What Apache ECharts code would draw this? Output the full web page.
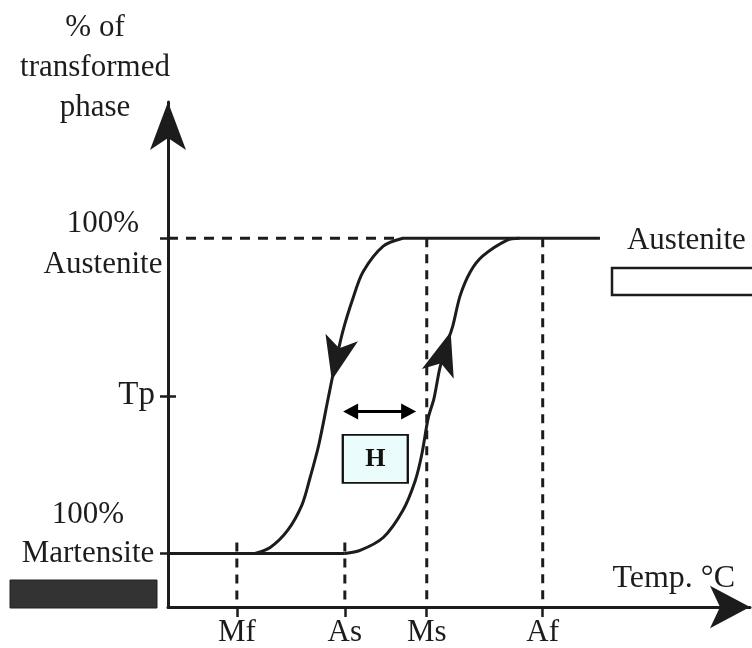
<!DOCTYPE html>
<html><head><meta charset="utf-8">
<script src="https://cdn.jsdelivr.net/npm/echarts@6/dist/echarts.min.js"></script>
<style>html,body{margin:0;padding:0;background:#fff}#c{width:752px;height:648px}</style>
</head><body><div id="c"></div>
<script>
// ---- data ----
const yTitle = '% of\ntransformed\nphase';
const xTitle = 'Temp. \u00B0C';
const xTickNames = ['Mf', 'As', 'Ms', 'Af'];
const xTickValues = [9.5, 24.4, 35.7, 51.7];
const yTickValues = [0, 50, 100];
const yTickNames = [['100%', 'Martensite'], ['Tp'], ['100%', 'Austenite']];
const austeniteLabel = 'Austenite';
const hysteresisLabel = 'H';
// cooling (austenite -> martensite), [temp, % austenite]
const coolingCurve = [[32.4,100],[29.7,97.5],[26.9,89.3],[25.5,80.8],[24.1,70.3],[22.8,57.1],[22.1,49.2],[20.8,34.4],[19.6,24.0],[18.5,15.5],[16.5,7.3],[14.1,1.9],[12.0,0]];
// heating (martensite -> austenite)
const heatingCurve = [[24.4,0],[26.5,0.95],[29.7,5.05],[32.4,13.6],[34.1,23.0],[35.0,31.2],[35.9,42.9],[36.7,49.2],[37.5,58.7],[38.5,66.6],[39.3,72.2],[40.3,81.7],[41.7,89.3],[43.4,94.3],[46.8,99.4],[48.5,100]];
const austeniteDashed = [[0,100],[32.4,100]];
const austeniteSolid = [[32.4,100],[59.6,100]];
const martensiteSolid = [[0,0],[24.4,0]];
const guideTops = [3.5, 3.5, 100, 100];
// arrow tips on the curves: [temp, %, direction]
const curveArrows = [[22.6,54.9,167],[39.0,70.3,-17]];
const hysteresisArrow = [[25.2,45],[33.2,45]];
const hBox = [28.6, 30];

// ---- style ----
const INK = '#1c1c1c';
const FONT = 'Liberation Serif';
const FS = 31;

const chart = echarts.init(document.getElementById('c'), null, {renderer: 'canvas'});

const guideSeries = xTickValues.map((x, i) => ({
  type: 'line', data: [[x, guideTops[i]], [x, -17]], symbol: 'none', silent: true,
  lineStyle: {color: INK, width: 3, type: [9, 7], cap: 'butt'}, z: 2
}));

const option = {
  backgroundColor: '#ffffff',
  animation: false,
  grid: {left: 168, right: 2, top: 102, bottom: 38, containLabel: false},
  xAxis: {
    type: 'value', min: 0, max: 80.3,
    axisLine: {show: true, onZero: false, lineStyle: {color: INK, width: 3},
      symbol: ['none', 'arrow'], symbolSize: [32, 40], symbolOffset: [0, 0]},
    axisTick: {show: true, customValues: xTickValues, length: 10, lineStyle: {color: INK, width: 2.5}},
    axisLabel: {customValues: xTickValues, formatter: v => xTickNames[xTickValues.indexOf(v)],
      margin: 10, fontSize: FS, fontFamily: FONT, color: INK},
    splitLine: {show: false},
    name: xTitle, nameLocation: 'end', nameGap: -15, nameMoveOverlap: false,
    nameTextStyle: {align: 'right', verticalAlign: 'bottom', padding: [0, 0, 12, 0], fontSize: 32, fontFamily: FONT, color: INK}
  },
  yAxis: [{
    type: 'value', min: -17, max: 143.2,
    axisLine: {show: true, onZero: false, lineStyle: {color: INK, width: 3},
      symbol: ['none', 'arrow'], symbolSize: [27, 48], symbolOffset: [0, 0]},
    axisTick: {show: true, customValues: yTickValues, length: 8, lineStyle: {color: INK, width: 2.5}},
    axisLabel: {
      customValues: yTickValues, margin: 5,
      formatter: v => {
        const n = yTickNames[yTickValues.indexOf(v)];
        if (n.length === 1) return '{t|' + n[0] + '}';
        if (v === 0) return '{m|' + n[0] + '}\n{m|' + n[1] + '}\n{m| }';
        return '{s| }\n{a|' + n[0] + '}\n{a|' + n[1] + '}';
      },
      rich: {
        a: {width: 120, align: 'center', fontSize: FS, lineHeight: 41, fontFamily: FONT, color: INK},
        s: {fontSize: 10, lineHeight: 12},
        m: {width: 134, align: 'center', fontSize: FS, lineHeight: 39, fontFamily: FONT, color: INK, padding: [0, 8, 0, 0]},
        t: {fontSize: 33, fontFamily: FONT, color: INK, padding: [0, 8, 0, 0]}
      }
    },
    splitLine: {show: false},
    name: yTitle, nameLocation: 'end', nameGap: 94, nameMoveOverlap: false,
    nameTextStyle: {align: 'center', verticalAlign: 'top', lineHeight: 40, padding: [0, 146, 0, 0],
      fontSize: FS, fontFamily: FONT, color: INK}
  }, {
    type: 'value', min: -17, max: 143.2, position: 'left', offset: 0,
    axisLine: {show: false, onZero: false},
    axisTick: {show: true, inside: true, customValues: [50], length: 8, lineStyle: {color: INK, width: 2.5}},
    axisLabel: {show: false}, splitLine: {show: false}
  }],
  graphic: [
    {type: 'rect', shape: {x: 612, y: 268, width: 160, height: 27}, style: {fill: '#fff', stroke: INK, lineWidth: 2.5}},
    {type: 'rect', shape: {x: 10, y: 580, width: 147, height: 28}, style: {fill: '#333', stroke: '#222', lineWidth: 1}}
  ],
  series: [
    {type: 'line', data: austeniteDashed, symbol: 'none', lineStyle: {color: INK, width: 3, type: [10, 8], cap: 'butt'}, z: 2},
    {type: 'line', data: austeniteSolid, symbol: 'none', lineStyle: {color: INK, width: 3}, z: 3,
      endLabel: {show: true, formatter: austeniteLabel, distance: 27, offset: [0, 3], fontSize: FS, fontFamily: FONT, color: INK}},
    {type: 'line', data: martensiteSolid, symbol: 'none', lineStyle: {color: INK, width: 3}, z: 3},
    ...guideSeries,
    {type: 'line', data: coolingCurve, symbol: 'none', smooth: 0.3, lineStyle: {color: INK, width: 3}, z: 4},
    {type: 'line', data: heatingCurve, symbol: 'none', smooth: 0.3, lineStyle: {color: INK, width: 3}, z: 4},
    {type: 'scatter', data: curveArrows, symbol: 'arrow', symbolSize: [25, 44],
      symbolRotate: (v) => v[2], itemStyle: {color: INK, opacity: 1}, z: 5, silent: true},
    {type: 'line', data: [], symbol: 'none', z: 6,
      markLine: {silent: true, symbol: ['triangle', 'triangle'], symbolSize: [16, 15], label: {show: false},
        lineStyle: {type: 'solid', color: '#000', width: 3},
        data: [[{coord: hysteresisArrow[0]}, {coord: hysteresisArrow[1]}]]},
      markPoint: {silent: true, symbol: 'rect', symbolSize: [65, 48],
        itemStyle: {color: '#eafcfc', borderColor: '#111', borderWidth: 2},
        label: {show: true, position: 'inside', formatter: hysteresisLabel, fontSize: 26, fontWeight: 'bold', fontFamily: FONT, color: '#111'},
        data: [{coord: hBox}]}
    }
  ]
};
chart.setOption(option);
</script></body></html>
